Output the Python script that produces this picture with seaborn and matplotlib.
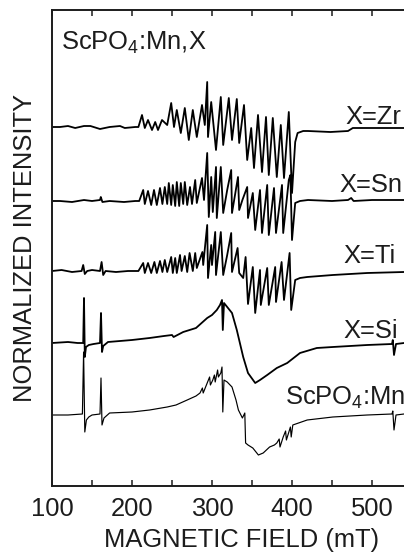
import matplotlib
matplotlib.use("Agg")
import matplotlib.pyplot as plt
from matplotlib.ticker import MultipleLocator
import pandas as pd
import seaborn as sns

# EPR spectra of ScPO4:Mn co-doped with X; field in mT, signal in arbitrary units
ZR_FIELD = [100, 110, 120, 129, 140, 148, 160, 172, 185, 191, 204, 208, 212.5, 216, 220, 225, 229, 232.5,
            237.5, 244, 249, 252.5, 256, 261, 266, 271, 276, 281, 287.5, 291, 294, 295, 299, 305, 311, 314,
            321, 325, 331, 334, 340, 344, 349, 352.5, 357.5, 362.5, 367.5, 371, 376, 381, 386, 390, 396,
            400, 404, 407, 414, 420, 448, 470, 476, 500, 540]
ZR_SIGNAL = [0, 0, 1, -1, 1, 1, -2, 0, 1, -1, 0, 0, 12, -1, 7, -3, 5, -3,
             7, 2, 24, 0, 17, -6, 19, -13, 17, -10, 22, 2, 45, -10, 25, -23, 30, -18,
             29, -13, 28, -16, 22, -33, -1, -41, 12, -45, 10, -48, 9, -50, 2, -51, 15,
             -66, -15, -6, -4, -4, -5, -4, -1, -1, -1]

SN_FIELD = [100, 110, 125, 140, 150, 160, 161, 163, 172, 190, 204, 209, 214, 216, 220, 224, 227.5, 231,
            235, 238, 241, 244, 246, 249, 251, 254, 256, 259, 261, 264, 266, 269, 272.5, 275, 279, 281,
            287.5, 290, 294, 296, 299, 301, 305, 306, 311, 314, 319, 324, 325, 332.5, 334, 338, 344, 345,
            351, 354, 360, 362.5, 369, 371, 377.5, 380, 387.5, 389, 396, 398, 400, 404, 410, 420, 450,
            470, 474, 477, 500, 540]
SN_SIGNAL = [0, 0, -1, 1, 0, 1, 4, -1, 0, -1, 0, 0, 11, -3, 10, -4, 11, -4,
             13, -3, 14, -3, 18, -4, 16, -5, 19, -5, 18, -3, 19, -4, 14, -3, 21, -2,
             23, 1, 48, -16, 24, -11, 34, -17, 34, -12, 11, 31, -12, 24, -9, 1, 14, -17,
             8, -29, 11, -32, 16, -34, 13, -32, 16, -32, 21, 26, -39, -2, 0, 1, 0,
             1, 3, 0, 1, 1]

TI_FIELD = [100, 112, 125, 137, 139, 141, 144, 150, 160, 162, 164, 167, 180, 195, 208, 214, 216, 220,
            224, 228, 231, 235, 238, 241, 244, 249, 251, 254, 256, 260, 262, 266, 269, 272, 276, 279,
            281, 288, 289, 294, 295, 299, 300, 304, 305, 311, 314, 319, 324, 325, 332, 334, 339, 342,
            345, 351, 354, 360, 361, 369, 371, 379, 380, 387, 390, 397, 399, 404, 410, 419, 451, 494, 540]
TI_SIGNAL = [0, 1, -1, 0, 6, -3, 0, 1, 0, 9, -4, 0, -1, 0, 0, 8, -2, 8,
             -2, 9, -2, 10, -1, 11, -1, 14, -2, 13, -2, 16, 0, 15, -1, 18, 0, 18,
             3, 19, 6, 46, -7, 26, 6, 39, -4, 39, -4, 16, 38, -1, 23, -2, -7, 14,
             -33, 4, -42, 1, -34, 3, -34, 4, -31, 9, -29, 18, -39, -9, -7, -6, -4, -2, -1]

SI_FIELD = [100, 120, 132, 139, 140, 141, 142.5, 146, 152, 160, 161.25, 162.5, 164, 170, 185, 200, 222,
            240, 250, 252, 264, 280, 294, 300, 306, 310, 312.5, 313.5, 315, 319, 325, 331, 339, 345,
            354, 360, 369, 381, 394, 410, 431, 451, 494, 525, 526, 527.5, 530, 540]
SI_SIGNAL = [0, 1, 0, 0, 45, -14, -4, -2, -1, 0, 30, -9, -3, 1, 2, 3, 5,
             7, 8, 6, 11, 15, 25, 28, 33, 38, 43, 13, 40, 36, 30, 13, -14, -30,
             -40, -37, -32, -25, -20, -10, -5, -4, -2, -1, 3, -12, -1, 0]

MN_FIELD = [100, 120, 138, 139.5, 141, 143, 146, 150, 160, 161.25, 162.5, 165, 172, 200, 222, 244, 255,
            269, 280, 285, 288, 289, 294, 297, 298, 301, 303, 304, 307, 308, 311, 312.5, 313.5, 315,
            319, 325, 330, 333, 338, 341, 342, 345, 351, 358, 364, 372, 378, 381, 384, 385, 389, 392,
            393, 398, 399, 401, 419, 451, 494, 525, 526, 527.5, 530, 540]
MN_SIGNAL = [0, 0, 1, 63, -17, -5, -2, 0, 1, 37, -10, -3, 2, 3, 5, 8, 10,
             15, 19, 22, 27, 22, 32, 38, 30, 35, 40, 33, 45, 38, 42, 48, 3, 35,
             33, 28, 15, 5, -3, 2, -28, -30, -33, -40, -38, -32, -30, -28, -24, -32, -22, -16,
             -25, -12, -22, -10, -5, -2, 0, 1, 4, -15, 0, 1]

SAMPLES = ["X=Zr", "X=Sn", "X=Ti", "X=Si", "ScPO$_4$:Mn"]
OFFSETS = [359, 285, 215, 143, 71]
LINE_WIDTHS = [1.3, 1.3, 1.3, 1.3, 0.85]

fields = [ZR_FIELD, SN_FIELD, TI_FIELD, SI_FIELD, MN_FIELD]
signals = [ZR_SIGNAL, SN_SIGNAL, TI_SIGNAL, SI_SIGNAL, MN_SIGNAL]

frames = []
for name, off, f, s in zip(SAMPLES, OFFSETS, fields, signals):
    frames.append(pd.DataFrame({"field": f, "intensity": [v + off for v in s], "sample": name}))
spectra = pd.concat(frames, ignore_index=True)

sns.set_theme(style="ticks")
plt.rcParams["font.family"] = ["Liberation Sans", "DejaVu Sans"]
plt.rcParams["mathtext.fontset"] = "custom"
plt.rcParams["mathtext.rm"] = "Liberation Sans"
plt.rcParams["mathtext.it"] = "Liberation Sans:italic"
plt.rcParams["mathtext.bf"] = "Liberation Sans:bold"

INK = "#1c1c1c"
FS = 18.4

fig = plt.figure(figsize=(4.04, 5.54), dpi=100)
ax = fig.add_axes([52 / 404, 68 / 554, 352 / 404, 476 / 554])

for name, lw in zip(SAMPLES, LINE_WIDTHS):
    sub = spectra[spectra["sample"] == name]
    sns.lineplot(data=sub, x="field", y="intensity", ax=ax, color="black", lw=lw,
                 estimator=None, sort=False, legend=False)

ax.set_xlim(100, 540)
ax.set_ylim(0, 476)
ax.xaxis.set_major_locator(MultipleLocator(100))
ax.xaxis.set_minor_locator(MultipleLocator(50))
ax.tick_params(axis="x", which="both", direction="in", top=True, bottom=True,
               length=4.3, width=1.1, color=INK)
ax.tick_params(axis="x", which="major", pad=8, labelsize=FS, labelcolor=INK)
ax.set_yticks([])
ax.spines["right"].set_visible(False)
for side in ("left", "top", "bottom"):
    ax.spines[side].set_linewidth(1.4)
    ax.spines[side].set_color(INK)

ax.set_xlabel("MAGNETIC FIELD (mT)", fontsize=FS, color=INK)
ax.xaxis.set_label_coords((241.5 - 52) / 352, (486 - 547) / 476)
ax.xaxis.label.set_va("baseline")
ax.set_ylabel("NORMALIZED INTENSITY", fontsize=FS, color=INK)
ax.yaxis.set_label_coords((25 - 52) / 352, 0.5)
ax.yaxis.label.set_va("center")

ax.text((61 - 52) / 352, (486 - 50) / 476, "ScPO$_4$:Mn,X", transform=ax.transAxes,
        fontsize=FS, color=INK, ha="left", va="baseline")

LABEL_X = [466.25, 459.5, 463.75, 463.75, 391.25]
LABEL_Y = [362, 294, 223, 148, 81]
for name, lx, ly in zip(SAMPLES, LABEL_X, LABEL_Y):
    ax.text(lx, ly, name, fontsize=FS, color=INK, ha="left", va="baseline", clip_on=False)

fig.savefig("out.png", dpi=100)
